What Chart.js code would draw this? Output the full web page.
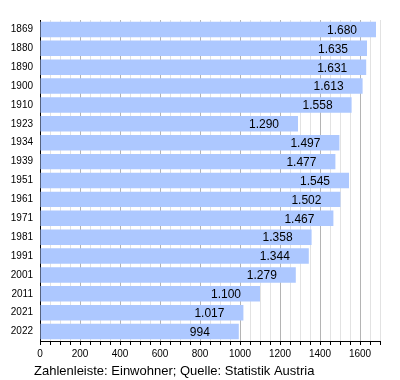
<!DOCTYPE html>
<html>
<head>
<meta charset="utf-8">
<script src="https://cdn.jsdelivr.net/npm/chart.js@4"></script>
<style>
  html, body { margin: 0; padding: 0; background: #fff; }
  #wrap { width: 400px; height: 380px; }
</style>
</head>
<body>
<div id="wrap"><canvas id="popChart" width="400" height="380"></canvas></div>
<script>
const years = ['1869', '1880', '1890', '1900', '1910', '1923', '1934', '1939', '1951', '1961', '1971', '1981', '1991', '2001', '2011', '2021', '2022'];
const population = [1680, 1635, 1631, 1613, 1558, 1290, 1497, 1477, 1545, 1502, 1467, 1358, 1344, 1279, 1100, 1017, 994];
const caption = 'Zahlenleiste: Einwohner; Quelle: Statistik Austria';

const barColor = '#adc8ff';
const fontFamily = '"Liberation Sans", Arial, sans-serif';

// 1.680 style (German thousands separator)
function formatDe(v) {
  const s = String(v);
  return s.length > 3 ? s.slice(0, -3) + '.' + s.slice(-3) : s;
}

const valueLabels = {
  id: 'valueLabels',
  afterDatasetsDraw(chart) {
    const ctx = chart.ctx;
    const meta = chart.getDatasetMeta(0);
    ctx.save();
    ctx.font = '12px ' + fontFamily;
    ctx.fillStyle = '#000';
    ctx.textAlign = 'left';
    ctx.textBaseline = 'middle';
    meta.data.forEach((bar, i) => {
      ctx.fillText(formatDe(population[i]), bar.x - 49, bar.y + 1);
    });
    ctx.restore();
  }
};

const captionPlugin = {
  id: 'caption',
  afterDraw(chart) {
    const ctx = chart.ctx;
    ctx.save();
    ctx.font = '13px ' + fontFamily;
    ctx.fillStyle = '#000';
    ctx.textAlign = 'left';
    ctx.textBaseline = 'alphabetic';
    ctx.fillText(caption, chart.chartArea.left - 6, 375);
    ctx.restore();
  }
};

const ctx = document.getElementById('popChart').getContext('2d');

new Chart(ctx, {
  type: 'bar',
  data: {
    labels: years,
    datasets: [{
      data: population,
      backgroundColor: barColor,
      borderWidth: 0,
      barPercentage: 0.82,
      categoryPercentage: 1.0
    }]
  },
  options: {
    indexAxis: 'y',
    responsive: false,
    animation: false,
    layout: {
      padding: { top: 20, right: 20, left: 0, bottom: 0 }
    },
    scales: {
      x: {
        min: 0,
        max: 1700,
        afterFit(scale) { scale.height = 39; },
        grid: {
          color: (c) => (c.tick && c.tick.value % 200 === 0) ? '#b4b4b4' : '#e2e2e2',
          tickColor: '#000',
          tickLength: 4,
          lineWidth: 1
        },
        border: { color: '#000', width: 1 },
        ticks: {
          stepSize: 50,
          autoSkip: false,
          maxRotation: 0,
          padding: 3,
          color: '#000',
          font: { size: 10, family: fontFamily },
          callback: (v) => (v % 200 === 0 ? String(v) : '')
        }
      },
      y: {
        afterFit(scale) { scale.width = 40; },
        grid: { display: false, drawTicks: false },
        border: { color: '#000', width: 1 },
        ticks: {
          padding: 7,
          color: '#000',
          font: { size: 10, family: fontFamily }
        }
      }
    },
    plugins: {
      legend: { display: false },
      tooltip: { enabled: false }
    }
  },
  plugins: [valueLabels, captionPlugin]
});
</script>
</body>
</html>
